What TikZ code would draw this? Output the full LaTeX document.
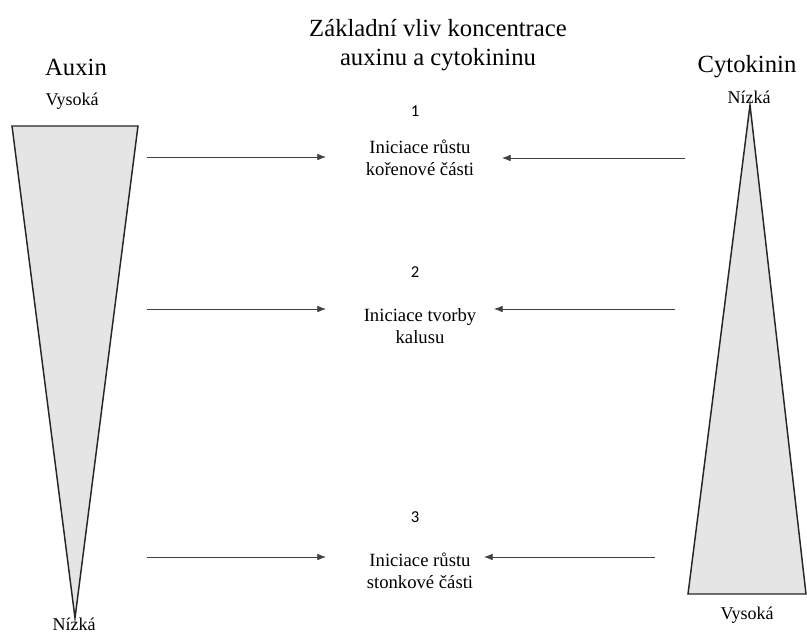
\documentclass[tikz,border=0pt]{standalone}
\usepackage{fontspec}
\setmainfont{Liberation Serif}
\newfontfamily\numfont{Carlito}
\usepackage{tikz}
\usetikzlibrary{arrows.meta}
\tikzset{cone/.style={draw=black!85, line width=1.1pt, fill=black!10, line join=miter},
	arr/.style={-{Latex[length=6.5pt,width=5pt]}, draw=black!75, line width=0.6pt},
	big/.style={font=\fontsize{18.5}{22}\selectfont},
	lab/.style={font=\fontsize{13.5}{16}\selectfont},
	txt/.style={align=center, font=\fontsize{14}{16.5}\selectfont},
	num/.style={font=\numfont\fontsize{12.5}{15}\selectfont}}

\begin{document}
\begin{tikzpicture}[x=0.75pt, y=-0.75pt]
		\useasboundingbox (0,0) rectangle (807,635);
		% titles
		\node(T)[big, align=center] at (438,45){Základní vliv koncentrace\\auxinu a cytokininu};
		\node(AU)[big] at (76,67){Auxin};
		\node(CY)[big] at (747,67){Cytokinin};
		\node(AH)[lab] at (72,101){Vysoká};
		\node(AL)[lab] at (74,624){Nízká};
		\node(CL)[lab] at (749,97){Nízká};
		\node(CH)[lab] at (747,615){Vysoká};
		% cones
		\draw[cone] (12,126) -- (138,126) -- (75,618) -- cycle;
		\draw[cone] (750,105) -- (806,594) -- (688,594) -- cycle;
		% numbers
		\node(N1)[num] at (415,111){1};
		\node(N2)[num] at (415,272){2};
		\node(N3)[num] at (415,517){3};
		% effects
		\node(E1)[txt] at (420,158){Iniciace růstu\\kořenové části};
		\node(E2)[txt] at (420,326){Iniciace tvorby\\kalusu};
		\node(E3)[txt] at (420,571){Iniciace růstu\\stonkové části};
		% arrow ends
		\coordinate(A1) at (147,157);
		\coordinate(A2) at (147,309);
		\coordinate(A3) at (147,557);
		\coordinate(B1) at (326,157);
		\coordinate(B2) at (326,309);
		\coordinate(B3) at (326,557);
		\coordinate(C1) at (685,158);
		\coordinate(C2) at (675,309);
		\coordinate(C3) at (655,557);
		\coordinate(D1) at (502,158);
		\coordinate(D2) at (494,309);
		\coordinate(D3) at (484,557);
		\foreach \i in {1,2,3}{
			\draw[arr](A\i) -- (B\i);
			\draw[arr](C\i) -- (D\i);
		}
	\end{tikzpicture}
\end{document}
